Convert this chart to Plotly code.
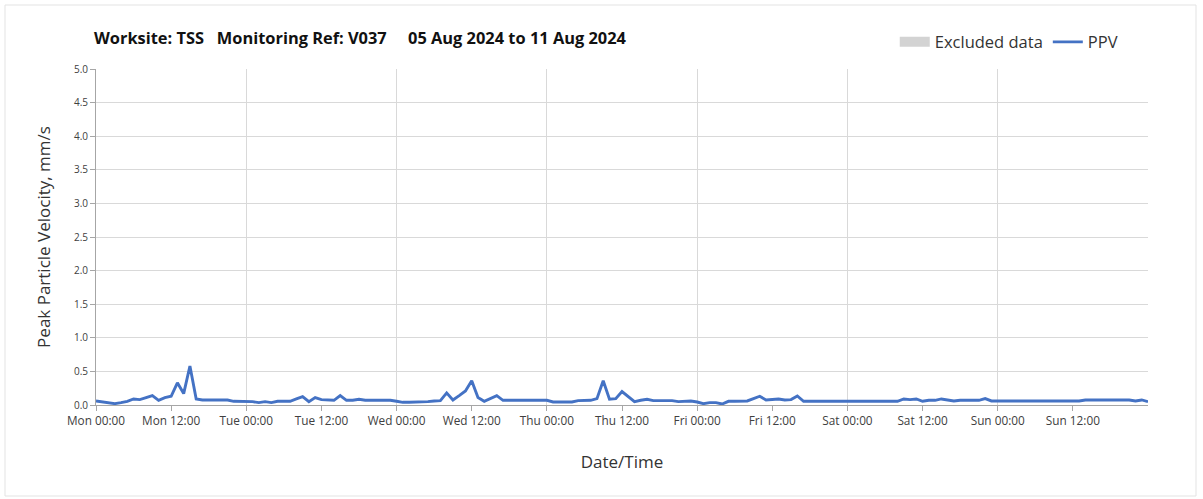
import datetime as dt
import plotly.graph_objects as go

# ---- data (hourly PPV readings, mm/s, Mon 05 Aug 2024 00:00 onward) ----
start = dt.datetime(2024, 8, 5, 0, 0)
ppv_values = [
    0.06, 0.045, 0.04, 0.02, 0.035, 0.055, 0.09, 0.08, 0.11, 0.14, 0.07, 0.11,
    0.13, 0.33, 0.17, 0.58, 0.09, 0.075, 0.075, 0.075, 0.075, 0.075, 0.055, 0.055,
    0.055, 0.05, 0.035, 0.05, 0.035, 0.055, 0.055, 0.055, 0.09, 0.125, 0.05, 0.11,
    0.08, 0.07, 0.07, 0.14, 0.07, 0.07, 0.085, 0.07, 0.07, 0.07, 0.07, 0.07,
    0.055, 0.04, 0.04, 0.04, 0.04, 0.05, 0.06, 0.065, 0.18, 0.075, 0.14, 0.21,
    0.36, 0.11, 0.055, 0.1, 0.14, 0.07, 0.07, 0.07, 0.07, 0.07, 0.07, 0.07,
    0.07, 0.045, 0.045, 0.045, 0.045, 0.065, 0.065, 0.07, 0.095, 0.36, 0.085, 0.095,
    0.2, 0.12, 0.05, 0.07, 0.085, 0.065, 0.065, 0.065, 0.065, 0.05, 0.05, 0.06,
    0.045, 0.02, 0.035, 0.035, 0.015, 0.055, 0.055, 0.06, 0.06, 0.095, 0.13, 0.075,
    0.08, 0.09, 0.075, 0.08, 0.135, 0.055, 0.055, 0.055, 0.055, 0.055, 0.055, 0.055,
    0.055, 0.055, 0.055, 0.055, 0.055, 0.055, 0.055, 0.055, 0.055, 0.09, 0.08, 0.09,
    0.055, 0.07, 0.07, 0.09, 0.075, 0.06, 0.07, 0.07, 0.07, 0.07, 0.095, 0.06,
    0.06, 0.06, 0.06, 0.06, 0.06, 0.06, 0.06, 0.06, 0.06, 0.06, 0.06, 0.06,
    0.07, 0.06, 0.075, 0.075, 0.075, 0.075, 0.075, 0.075, 0.075, 0.075, 0.06, 0.075,
    0.05,
]
timestamps = [start + dt.timedelta(hours=i) for i in range(len(ppv_values))]

tick_labels = ["Mon 00:00", "Mon 12:00", "Tue 00:00", "Tue 12:00", "Wed 00:00",
               "Wed 12:00", "Thu 00:00", "Thu 12:00", "Fri 00:00", "Fri 12:00",
               "Sat 00:00", "Sat 12:00", "Sun 00:00", "Sun 12:00"]
tick_vals = [start + dt.timedelta(hours=12 * i) for i in range(len(tick_labels))]
x_end = start + dt.timedelta(days=7)

title_text = ("<b>Worksite: TSS&nbsp;&nbsp;&nbsp;Monitoring Ref: V037"
              "&nbsp;&nbsp;&nbsp;&nbsp;&nbsp;05 Aug 2024 to 11 Aug 2024</b>")

FONT = "Open Sans"

fig = go.Figure()
# legend-only entry for excluded data (no excluded periods in this week)
fig.add_trace(go.Scatter(
    x=[None], y=[None], mode="lines", name="Excluded data",
    line=dict(color="#d3d3d3", width=10), showlegend=True,
))
fig.add_trace(go.Scatter(
    x=timestamps, y=ppv_values, mode="lines", name="PPV",
    line=dict(color="#4472C4", width=2.9),
))

fig.update_layout(
    width=1203, height=499, autosize=False,
    margin=dict(l=96, r=55, t=69, b=94, autoexpand=False),
    paper_bgcolor="white", plot_bgcolor="white",
    font=dict(family=FONT, color="#404040"),
    title=dict(text=title_text, x=94 / 1203, xanchor="left", y=1 - 38 / 499,
               yanchor="middle", font=dict(size=16.4, color="#111111", family=FONT)),
    legend=dict(orientation="h", x=0.976, xanchor="right", y=1.08, yanchor="middle",
                font=dict(size=16.5, color="#333333"), itemwidth=30,
                bgcolor="rgba(0,0,0,0)"),
    showlegend=True,
    xaxis=dict(
        type="date", range=[start, x_end], tickvals=tick_vals, ticktext=tick_labels,
        showgrid=False, ticks="outside", ticklen=5, tickcolor="#a6a6a6",
        showline=True, linecolor="#a6a6a6", linewidth=1, automargin=False,
        tickfont=dict(size=11.8, color="#404040"),
        minor=dict(dtick=86400000, tick0=start, showgrid=True,
                   gridcolor="#d9d9d9", gridwidth=1, ticks=""),
        title=dict(text="Date/Time", font=dict(size=17, color="#333333"), standoff=28),
        zeroline=False,
    ),
    yaxis=dict(
        range=[0, 5], dtick=0.5, tick0=0, tickformat=".1f",
        showgrid=True, gridcolor="#d9d9d9", gridwidth=1,
        ticks="outside", ticklen=5, tickcolor="#a6a6a6",
        showline=True, linecolor="#a6a6a6", linewidth=1, automargin=False,
        tickfont=dict(size=10, color="#404040"),
        title=dict(text="Peak Particle Velocity, mm/s",
                   font=dict(size=17, color="#333333"), standoff=18),
        zeroline=False,
    ),
    shapes=[dict(type="rect", xref="paper", yref="paper",
                 x0=(5 - 96) / 1052, x1=(1196 - 96) / 1052,
                 y0=(405 - 496) / 336, y1=(405 - 5) / 336,
                 line=dict(color="#e3e3e3", width=1), layer="below")],
)

fig.write_html("out.html", config={"displayModeBar": False},
               post_script="document.body.style.margin='0px';")
